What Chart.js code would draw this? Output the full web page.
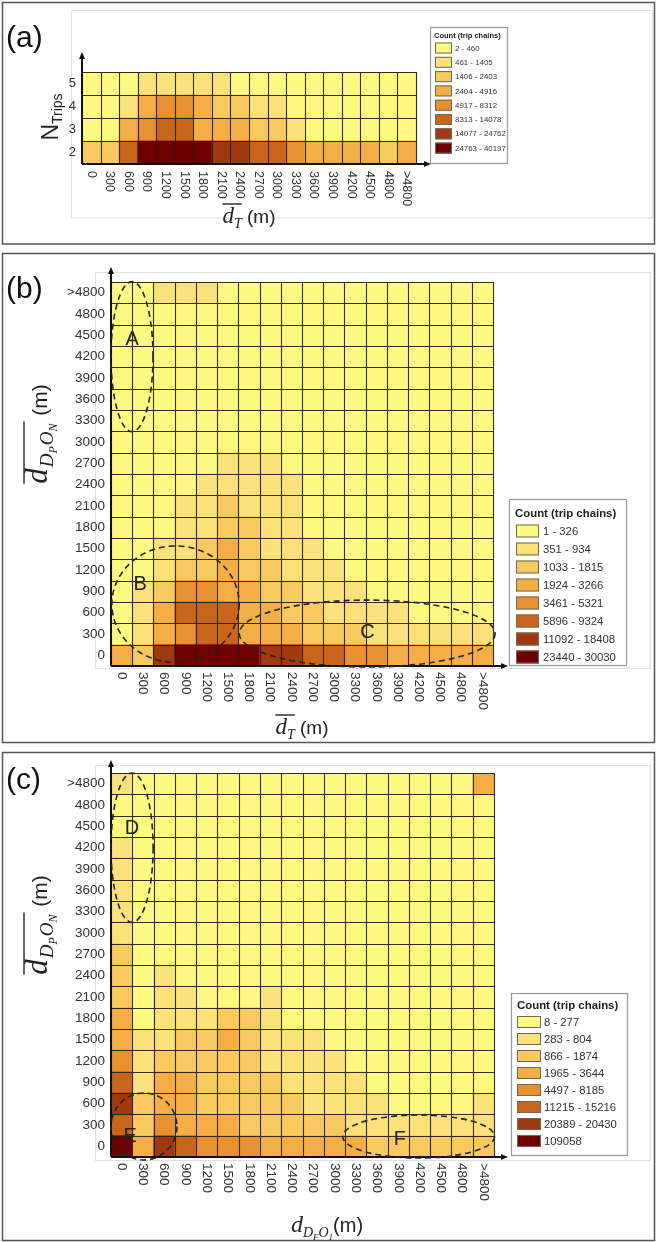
<!DOCTYPE html>
<html>
<head>
<meta charset="utf-8">
<script src="https://cdn.jsdelivr.net/npm/chart.js@4.4.0/dist/chart.umd.min.js"></script>
<style>
  body { margin: 0; background: #fff; width: 657px; height: 1242px; position: relative; overflow: hidden; }
  canvas { position: absolute; left: 0; }
</style>
</head>
<body>
<canvas id="chartA" width="657" height="248" style="top:0px"></canvas>
<canvas id="chartB" width="657" height="498" style="top:248px"></canvas>
<canvas id="chartC" width="657" height="496" style="top:746px"></canvas>
<script>
// tick labels
const distLabels = ['0','300','600','900','1200','1500','1800','2100','2400','2700','3000','3300','3600','3900','4200','4500','4800','>4800'];
const tripLabels = ['2','3','4','5'];

// legend classes
const legendA = ['2 - 460','461 - 1405','1406 - 2403','2404 - 4916','4917 - 8312','8313 - 14078','14077 - 24762','24763 - 40197'];
const legendB = ['1 - 326','351 - 934','1033 - 1815','1924 - 3266','3461 - 5321','5896 - 9324','11092 - 18408','23440 - 30030'];
const legendC = ['8 - 277','283 - 804','866 - 1874','1965 - 3644','4497 - 8185','11215 - 15216','20389 - 20430','109058'];

const classColors = ['#FFF981','#FBE17A','#F8C95F','#F4AE45','#E8912F','#C9661C','#A03A0E','#700000'];

// (a) class of each cell, rows N = 2..5, columns = distLabels
const levelsA = [
  [2,2,5,7,7,7,7,6,6,5,5,4,3,3,3,3,2,3],
  [0,0,3,4,5,5,3,3,3,2,2,1,0,0,0,0,0,0],
  [0,0,1,3,4,4,3,2,2,1,1,0,0,0,0,0,0,0],
  [0,0,0,1,1,1,1,1,0,0,0,0,0,0,0,0,0,0]
];
// (b) rows 0 .. >4800 (bottom to top)
const levelsB = [
  [3,2,6,7,7,7,7,6,6,5,5,4,4,3,3,3,3,3],
  [0,1,3,4,5,5,3,3,3,2,2,2,1,1,1,1,1,1],
  [0,1,3,5,5,5,3,3,2,2,1,1,1,1,0,0,0,0],
  [0,1,2,4,4,3,3,2,2,1,1,1,0,0,0,0,0,0],
  [0,0,1,2,2,3,2,2,1,1,1,0,0,0,0,0,0,0],
  [0,0,1,1,2,3,2,1,1,1,0,0,0,0,0,0,0,0],
  [0,0,0,1,1,2,2,1,1,0,0,0,0,0,0,0,0,0],
  [0,0,0,1,1,2,1,1,1,0,0,0,0,0,0,0,0,0],
  [0,0,0,0,1,1,1,1,1,0,0,0,0,0,0,0,0,0],
  [0,0,0,0,0,1,1,1,0,0,0,0,0,0,0,0,0,0],
  [0,0,0,0,0,0,0,0,0,0,0,0,0,0,0,0,0,0],
  [0,0,0,0,0,0,0,0,0,0,0,0,0,0,0,0,0,0],
  [0,0,0,0,0,0,0,0,0,0,0,0,0,0,0,0,0,0],
  [0,0,0,0,0,0,0,0,0,0,0,0,0,0,0,0,0,0],
  [0,0,0,0,0,0,0,0,0,0,0,0,0,0,0,0,0,0],
  [0,0,0,0,0,0,0,0,0,0,0,0,0,0,0,0,0,0],
  [0,0,0,0,0,0,0,0,0,0,0,0,0,0,0,0,0,0],
  [0,0,1,1,1,0,0,0,0,0,0,0,0,0,0,0,0,0]
];
// (c) rows 0 .. >4800 (bottom to top)
const levelsC = [
  [7,3,6,5,4,4,4,3,3,3,3,3,2,2,2,2,2,2],
  [5,2,4,3,3,3,2,2,2,2,2,1,1,1,1,1,1,1],
  [6,2,3,3,2,2,2,2,2,1,1,1,1,0,0,0,0,1],
  [5,1,3,3,2,2,2,2,1,1,1,1,0,0,0,0,0,0],
  [4,1,2,2,2,2,2,1,1,1,1,0,0,0,0,0,0,0],
  [3,1,1,2,2,3,2,1,1,1,0,0,0,0,0,0,0,0],
  [3,0,1,1,1,2,2,1,0,0,0,0,0,0,0,0,0,0],
  [2,0,1,1,0,0,0,1,0,0,0,0,0,0,0,0,0,0],
  [2,0,1,0,0,0,0,0,0,0,0,0,0,0,0,0,0,0],
  [2,0,0,0,0,0,0,0,0,0,0,0,0,0,0,0,0,0],
  [1,0,0,0,0,0,0,0,0,0,0,0,0,0,0,0,0,0],
  [1,0,0,0,0,0,0,0,0,0,0,0,0,0,0,0,0,0],
  [1,0,0,0,0,0,0,0,0,0,0,0,0,0,0,0,0,0],
  [1,0,0,0,0,0,0,0,0,0,0,0,0,0,0,0,0,0],
  [1,0,0,0,0,0,0,0,0,0,0,0,0,0,0,0,0,0],
  [0,0,0,0,0,0,0,0,0,0,0,0,0,0,0,0,0,0],
  [0,0,0,0,0,0,0,0,0,0,0,0,0,0,0,0,0,0],
  [1,0,0,0,0,0,0,0,0,0,0,0,0,0,0,0,0,3]
];

const sans = s => s + 'px "Liberation Sans", Arial, sans-serif';
const serifI = s => 'italic ' + s + 'px "Liberation Serif", "DejaVu Serif", serif';
const textColor = '#333';

// draws a row of text pieces centred on x
function drawSegs(ctx, segs, x, y, overOffset) {
  let w = 0;
  segs.forEach(s => { ctx.font = s.f; s.w = ctx.measureText(s.t).width + (s.gap || 0); w += s.w; });
  let px = x - w / 2, o0 = null, o1 = null;
  ctx.textAlign = 'left';
  ctx.textBaseline = 'alphabetic';
  segs.forEach(s => {
    ctx.font = s.f;
    ctx.fillText(s.t, px, y + (s.dy || 0));
    if (s.over) { if (o0 === null) o0 = px; o1 = px + s.w; }
    px += s.w;
  });
  if (o0 !== null) {
    ctx.lineWidth = 1.4;
    ctx.beginPath();
    ctx.moveTo(o0, y - overOffset);
    ctx.lineTo(o1, y - overOffset);
    ctx.stroke();
  }
}

function drawLegend(ctx, L, labels) {
  ctx.fillStyle = '#fff';
  ctx.fillRect(L.x, L.y, L.w, L.h);
  ctx.strokeStyle = '#9a9a9a';
  ctx.lineWidth = 1.2;
  ctx.strokeRect(L.x, L.y, L.w, L.h);
  ctx.fillStyle = '#222';
  ctx.font = 'bold ' + sans(L.titleSize);
  ctx.textAlign = 'left';
  ctx.textBaseline = 'middle';
  ctx.fillText('Count (trip chains)', L.titleX, L.titleY);
  labels.forEach((lab, k) => {
    const yc = L.row0 + k * L.step;
    ctx.fillStyle = classColors[k];
    ctx.fillRect(L.swX, yc - L.swH / 2, L.swW, L.swH);
    ctx.strokeStyle = '#6b6b5a';
    ctx.lineWidth = 1;
    ctx.strokeRect(L.swX + 0.5, yc - L.swH / 2 + 0.5, L.swW - 1, L.swH - 1);
    ctx.fillStyle = '#333';
    ctx.font = sans(L.size);
    ctx.fillText(lab, L.textX, yc + 0.5);
  });
}

function arrowHead(ctx, x, y, dir) {
  ctx.beginPath();
  if (dir === 'up') { ctx.moveTo(x, y - 3); ctx.lineTo(x - 3, y + 4); ctx.lineTo(x + 3, y + 4); }
  else { ctx.moveTo(x + 3, y); ctx.lineTo(x - 4, y - 3); ctx.lineTo(x - 4, y + 3); }
  ctx.closePath();
  ctx.fill();
}

function drawDeco(chart, d) {
  const ctx = chart.ctx;
  const xs = chart.scales.x, ys = chart.scales.y, ca = chart.chartArea;
  const ux = u => xs.getPixelForValue(u - 0.5);
  const uy = v => ys.getPixelForValue(v);
  const nx = d.xLabels.length, ny = d.yLabels.length;
  ctx.save();

  // cell borders
  ctx.strokeStyle = 'rgba(30,30,12,0.92)';
  ctx.lineWidth = 1.1;
  ctx.beginPath();
  for (let i = 0; i <= nx; i++) {
    const x = Math.round(ux(i)) + 0.5;
    ctx.moveTo(x, uy(0));
    ctx.lineTo(x, uy(ny));
  }
  for (let j = 0; j <= ny; j++) {
    const y = Math.round(uy(j)) + 0.5;
    ctx.moveTo(ux(0), y);
    ctx.lineTo(ux(nx), y);
  }
  ctx.stroke();

  // panel frame and plot-area box
  ctx.strokeStyle = '#e0e0e0';
  ctx.lineWidth = 1;
  ctx.strokeRect(d.faint[0], d.faint[1], d.faint[2], d.faint[3]);
  ctx.strokeStyle = '#555';
  ctx.lineWidth = 1.5;
  ctx.strokeRect(d.frame[0], d.frame[1], d.frame[2], d.frame[3]);

  // axes with arrows
  ctx.strokeStyle = '#111';
  ctx.fillStyle = '#111';
  ctx.lineWidth = 2;
  ctx.beginPath();
  ctx.moveTo(ca.left, ca.bottom);
  ctx.lineTo(ca.left, d.yArrowTop);
  ctx.moveTo(ca.left, ca.bottom);
  ctx.lineTo(d.xArrowEnd, ca.bottom);
  ctx.stroke();
  arrowHead(ctx, ca.left, d.yArrowTop, 'up');
  arrowHead(ctx, d.xArrowEnd, ca.bottom, 'right');

  // tick labels
  ctx.fillStyle = textColor;
  ctx.font = sans(d.yTick);
  ctx.textAlign = 'right';
  ctx.textBaseline = 'middle';
  d.yLabels.forEach((lab, j) => ctx.fillText(lab, ca.left - 6, uy(j + 0.5)));
  ctx.font = sans(d.xTick);
  ctx.textAlign = 'left';
  d.xLabels.forEach((lab, i) => {
    ctx.save();
    ctx.translate(xs.getPixelForValue(i), ca.bottom + d.xGap);
    ctx.rotate(Math.PI / 2);
    ctx.fillText(lab, 0, 0);
    ctx.restore();
  });

  // axis titles
  ctx.fillStyle = '#222';
  ctx.strokeStyle = '#222';
  drawSegs(ctx, d.xTitle.segs, d.xTitle.x, d.xTitle.y, d.xTitle.over);
  ctx.save();
  ctx.translate(d.yTitle.x, d.yTitle.y);
  ctx.rotate(-Math.PI / 2);
  drawSegs(ctx, d.yTitle.segs, 0, 0, d.yTitle.over);
  ctx.restore();

  // panel label
  ctx.fillStyle = '#111';
  ctx.font = sans(30);
  ctx.textAlign = 'left';
  ctx.textBaseline = 'alphabetic';
  ctx.fillText(d.label.t, d.label.x, d.label.y);

  // dashed ellipses
  const cw = ux(1) - ux(0), ch = uy(0) - uy(1);
  d.ellipses.forEach(e => {
    ctx.strokeStyle = '#222';
    ctx.lineWidth = 1.6;
    ctx.setLineDash([6, 4]);
    ctx.beginPath();
    ctx.ellipse(ux(e.cx), uy(e.cy), e.rx * cw, e.ry * ch, 0, 0, Math.PI * 2);
    ctx.stroke();
    ctx.setLineDash([]);
    ctx.fillStyle = '#222';
    ctx.font = sans(20);
    ctx.textAlign = 'center';
    ctx.textBaseline = 'middle';
    ctx.fillText(e.t, ux(e.lx), uy(e.ly));
  });

  drawLegend(ctx, d.legend, d.legendLabels);
  ctx.restore();
}

function heatmap(canvasId, xLabels, yLabels, levels, pad, deco) {
  const datasets = levels.map((row, j) => ({
    label: yLabels[j],
    data: row.map(() => 1),
    backgroundColor: row.map(l => classColors[l]),
    borderWidth: 0,
    barPercentage: 1,
    categoryPercentage: 1
  }));
  deco.xLabels = xLabels;
  deco.yLabels = yLabels;
  return new Chart(document.getElementById(canvasId), {
    type: 'bar',
    data: { labels: xLabels, datasets: datasets },
    options: {
      responsive: false,
      animation: false,
      layout: { padding: pad },
      plugins: { legend: { display: false }, tooltip: { enabled: false } },
      scales: {
        x: {
          stacked: true,
          grid: { display: false, drawTicks: false },
          border: { display: false },
          ticks: { display: false }
        },
        y: {
          stacked: true, min: 0, max: yLabels.length,
          grid: { display: false, drawTicks: false },
          border: { display: false },
          ticks: { display: false, stepSize: 1 }
        }
      }
    },
    plugins: [{ id: 'deco' + canvasId, afterDraw: chart => drawDeco(chart, deco) }]
  });
}

const dTitle = () => [
  { t: 'd', f: serifI(23), over: true },
  { t: 'T', f: serifI(14), dy: 5, over: true },
  { t: ' (m)', f: sans(19) }
];
const dpTitle = () => [
  { t: 'd', f: serifI(31), over: true, gap: 1 },
  { t: 'D', f: serifI(19), dy: 6, over: true },
  { t: 'P', f: serifI(12), dy: 10, over: true, gap: 1 },
  { t: 'O', f: serifI(19), dy: 6, over: true },
  { t: 'N', f: serifI(12), dy: 10, over: true, gap: 2 },
  { t: ' (m)', f: sans(21) }
];

heatmap('chartA', distLabels, tripLabels, levelsA, { left: 82, right: 241, top: 72, bottom: 84 }, {
  frame: [2.5, 2.5, 652, 241.5],
  faint: [71.5, 10.5, 581, 207.5],
  label: { t: '(a)', x: 6, y: 47 },
  yArrowTop: 55, xArrowEnd: 428,
  yTick: 13, xTick: 12.5, xGap: 7,
  xTitle: { segs: dTitle(), x: 249, y: 223, over: 19 },
  yTitle: { segs: [{ t: 'N', f: sans(23) }, { t: 'Trips', f: sans(14), dy: 4 }], x: 58, y: 117, over: 0 },
  ellipses: [],
  legend: { x: 430.5, y: 27.5, w: 77, h: 136, titleX: 434, titleY: 36, titleSize: 7.5,
            row0: 48, step: 14.3, swX: 435, swW: 17, swH: 11, textX: 455, size: 7.9 },
  legendLabels: legendA
});

heatmap('chartB', distLabels, distLabels, levelsB, { left: 111, right: 164, top: 34, bottom: 80 }, {
  frame: [2.5, 5.5, 652, 489],
  faint: [95.5, 24.5, 555, 396],
  label: { t: '(b)', x: 6, y: 50 },
  yArrowTop: 22, xArrowEnd: 505,
  yTick: 13.5, xTick: 13.5, xGap: 6,
  xTitle: { segs: dTitle(), x: 302, y: 486, over: 19 },
  yTitle: { segs: dpTitle(), x: 47, y: 186, over: 23 },
  ellipses: [
    { t: 'A', cx: 0.99, cy: 14.5, rx: 0.99, ry: 3.52, lx: 1.0, ly: 15.3 },
    { t: 'B', cx: 3.04, cy: 2.9, rx: 3.0, ry: 2.73, lx: 1.37, ly: 3.8 },
    { t: 'C', cx: 12.07, cy: 1.52, rx: 6.03, ry: 1.57, lx: 12.08, ly: 1.55 }
  ],
  legend: { x: 509.5, y: 251.5, w: 117, h: 166, titleX: 515, titleY: 266, titleSize: 11.4,
            row0: 283, step: 18, swX: 516, swW: 23, swH: 13, textX: 543, size: 11.3 },
  legendLabels: legendB
});

heatmap('chartC', distLabels, distLabels, levelsC, { left: 111, right: 163, top: 27, bottom: 85 }, {
  frame: [2.5, 6.5, 652, 488],
  faint: [95.5, 19.5, 555, 395],
  label: { t: '(c)', x: 6, y: 43 },
  yArrowTop: 17, xArrowEnd: 505,
  yTick: 13.5, xTick: 13.5, xGap: 6,
  xTitle: { segs: [
    { t: 'd', f: serifI(24) },
    { t: 'D', f: serifI(14), dy: 5 },
    { t: 'F', f: serifI(9), dy: 8 },
    { t: 'O', f: serifI(14), dy: 5 },
    { t: '1', f: serifI(9), dy: 8 },
    { t: '(m)', f: sans(20) }
  ], x: 327, y: 486, over: 0 },
  yTitle: { segs: dpTitle(), x: 47, y: 179, over: 23 },
  ellipses: [
    { t: 'D', cx: 0.99, cy: 14.5, rx: 0.99, ry: 3.5, lx: 0.99, ly: 15.4 },
    { t: 'E', cx: 1.55, cy: 1.43, rx: 1.55, ry: 1.57, lx: 0.9, ly: 0.94 },
    { t: 'F', cx: 14.46, cy: 0.96, rx: 3.57, ry: 1.01, lx: 13.57, ly: 0.8 }
  ],
  legend: { x: 511.5, y: 247.5, w: 116, h: 162, titleX: 517, titleY: 260, titleSize: 11.4,
            row0: 276, step: 17, swX: 517, swW: 24, swH: 12, textX: 544, size: 11.3 },
  legendLabels: legendC
});
</script>
</body>
</html>
